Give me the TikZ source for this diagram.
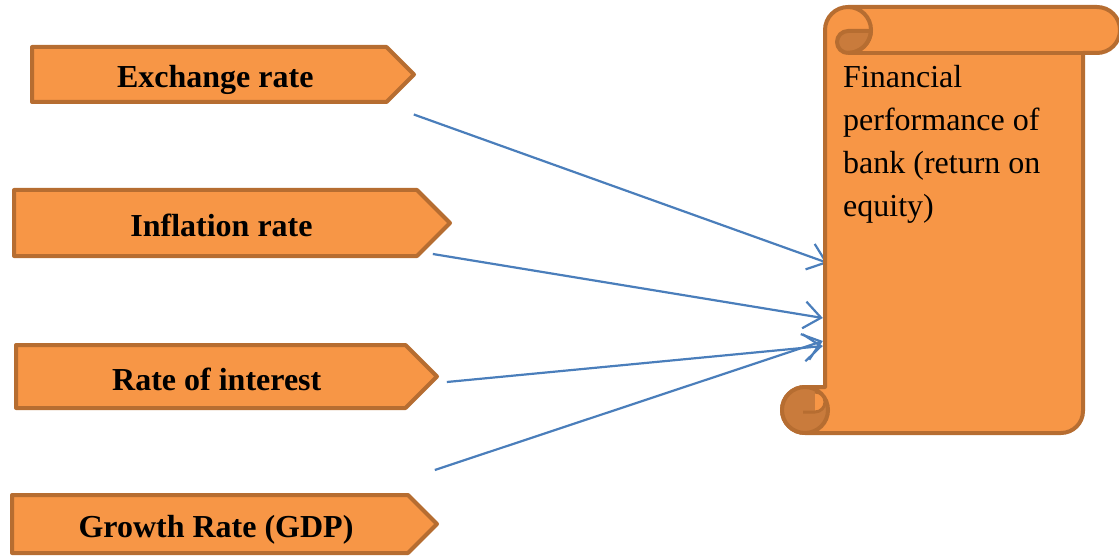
\documentclass[tikz,border=0pt]{standalone}
\usepackage{fontspec}
\setmainfont{Liberation Serif}
\usetikzlibrary{shapes.symbols,arrows.meta,positioning,calc}
\definecolor{accorange}{HTML}{F79646}
\definecolor{accedge}{HTML}{B66D31}
\definecolor{accdark}{HTML}{C97B3C}
\definecolor{linkblue}{HTML}{4A7EBB}
\tikzset{factor/.style={signal, signal to=east, signal pointer angle=90, draw=accedge, fill=accorange,
    line width=4pt, line join=round, inner sep=0pt, anchor=west, font=\bfseries\fontsize{32}{38}\selectfont,
    text height=27pt, text depth=0pt}}
\tikzset{link/.style={draw=linkblue, line width=2.2pt, -{Straight Barb[length=17pt,width=27pt]}}}

\begin{document}
\begin{tikzpicture}[x=1pt,y=-1pt]
\useasboundingbox (0,0) rectangle (1119,556);
% the four factors
\node[factor, minimum width=382, minimum height=55] (exch) at (30,74.5) {\hspace*{12pt}Exchange rate};
\node[factor, minimum width=436, minimum height=66] (infl) at (12,223) {\hspace*{12pt}Inflation rate};
\node[factor, minimum width=421, minimum height=63] (rate) at (14,376.5) {\hspace*{12pt}Rate of interest};
\node[factor, minimum width=425, minimum height=58] (grow) at (10,524) {\hspace*{12pt}Growth Rate (GDP)};

% body of the scroll, only used for the arrow ends
\node[inner sep=0pt, minimum width=258, minimum height=380] (scroll) at (954,243) {};

\draw[link] ([xshift=-3,yshift=-40]exch.east) -- ([xshift=3,yshift=-20]scroll.west);
\draw[link] ([xshift=-20,yshift=-31]infl.east) -- ([xshift=-2,yshift=-75]scroll.west);
\draw[link] ([xshift=7,yshift=-5.5]rate.east) -- ([xshift=-2,yshift=-103]scroll.west);
\draw[link] ([xshift=-5,yshift=54]grow.east) -- ([xshift=-2,yshift=-98]scroll.west);

% the scroll
\begin{scope}[draw=accedge, line width=4pt, line join=round]
\filldraw[fill=accorange] (825,387) -- (825,30) arc[start angle=180,end angle=270,radius=23]
    -- (1097,7) arc[start angle=270,end angle=450,radius=23] -- (1083,53)
    -- (1083,411) arc[start angle=0,end angle=90,radius=22]
    -- (805,433) arc[start angle=90,end angle=270,radius=23] -- cycle;
\draw (848,53) -- (1083,53);
\filldraw[fill=accdark] (848,53) arc[start angle=90,end angle=270,radius=11]
    -- (870.98,31) arc[start angle=2.5,end angle=90,radius=23];
\draw (848,7) arc[start angle=270,end angle=450,radius=23];
\filldraw[fill=accdark] (805,410) circle[radius=23];
\fill[accorange] (815,392) arc[start angle=-90,end angle=90,radius=10] -- cycle;
\draw[line width=3pt] (815,392) arc[start angle=-90,end angle=90,radius=10] -- (803,412);
\end{scope}

\node[anchor=north west, inner sep=0pt, align=left, font=\fontsize{32}{43}\selectfont] (roe) at (843,65)
    {Financial\\performance of\\bank (return on\\equity)};
\end{tikzpicture}
\end{document}
